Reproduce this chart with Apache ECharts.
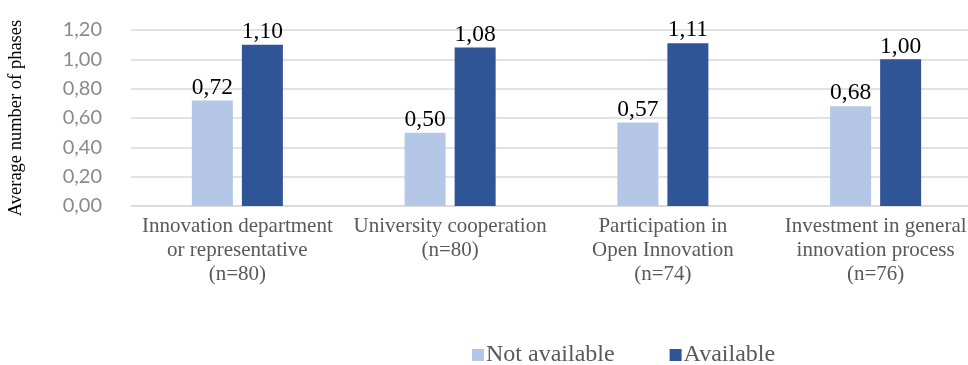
<!DOCTYPE html>
<html>
<head>
<meta charset="utf-8">
<script src="https://cdn.jsdelivr.net/npm/echarts@6/dist/echarts.min.js"></script>
<style>
  html, body { margin: 0; padding: 0; background: #fff; }
  #chart { width: 968px; height: 365px; }
</style>
</head>
<body>
<div id="chart"></div>
<script>
// Categories and averages per group
const categories = [
  'Innovation department\nor representative\n(n=80)',
  'University cooperation\n(n=80)',
  'Participation in\nOpen Innovation\n(n=74)',
  'Investment in general\ninnovation process\n(n=76)'
];
const notAvailable = [0.72, 0.50, 0.57, 0.68];
const available = [1.10, 1.08, 1.11, 1.00];
const yTicks = [0, 0.2, 0.4, 0.6, 0.8, 1.0, 1.2];

const fmt = v => v.toFixed(2).replace('.', ',');
const serif = '"Liberation Serif", "Times New Roman", serif';

const chart = echarts.init(document.getElementById('chart'), null, { renderer: 'canvas' });

const labelStyle = {
  show: true,
  position: 'top',
  distance: 1,
  fontFamily: serif,
  fontSize: 23.5,
  color: '#000',
  formatter: p => fmt(p.value)
};

chart.setOption({
  animation: false,
  grid: { left: 131, top: 30, width: 851, height: 176, containLabel: false, outerBoundsMode: 'none' },
  legend: {
    data: ['Not available', 'Available'],
    left: 467,
    top: 338,
    itemWidth: 12,
    itemHeight: 12,
    itemGap: 55,
    icon: 'rect',
    textStyle: { fontFamily: serif, fontSize: 24, color: '#595959', padding: [0, 0, 0, -3] }
  },
  xAxis: {
    type: 'category',
    data: categories,
    axisTick: { show: false },
    axisLine: { lineStyle: { color: '#d9d9d9', width: 1.5 } },
    axisLabel: {
      fontFamily: serif,
      fontSize: 21,
      color: '#595959',
      lineHeight: 24,
      margin: 8,
      interval: 0
    }
  },
  yAxis: {
    type: 'value',
    min: yTicks[0],
    max: yTicks[yTicks.length - 1],
    interval: 0.2,
    name: 'Average number of phases',
    nameLocation: 'middle',
    nameGap: 105,
    nameTextStyle: { fontFamily: serif, fontSize: 18.5, color: '#000' },
    axisLine: { show: false },
    axisTick: { show: false },
    splitLine: { lineStyle: { color: '#d9d9d9', width: 1.5 } },
    axisLabel: {
      fontFamily: 'Lato, sans-serif',
      fontSize: 20,
      color: '#8a8a8a',
      margin: 29,
      formatter: v => fmt(v)
    }
  },
  series: [
    {
      name: 'Not available',
      type: 'bar',
      data: notAvailable,
      barWidth: 41,
      barGap: '22%',
      itemStyle: { color: '#b4c7e7' },
      label: labelStyle
    },
    {
      name: 'Available',
      type: 'bar',
      data: available,
      barWidth: 41,
      barGap: '22%',
      itemStyle: { color: '#2f5597' },
      label: labelStyle
    }
  ]
});
</script>
</body>
</html>
